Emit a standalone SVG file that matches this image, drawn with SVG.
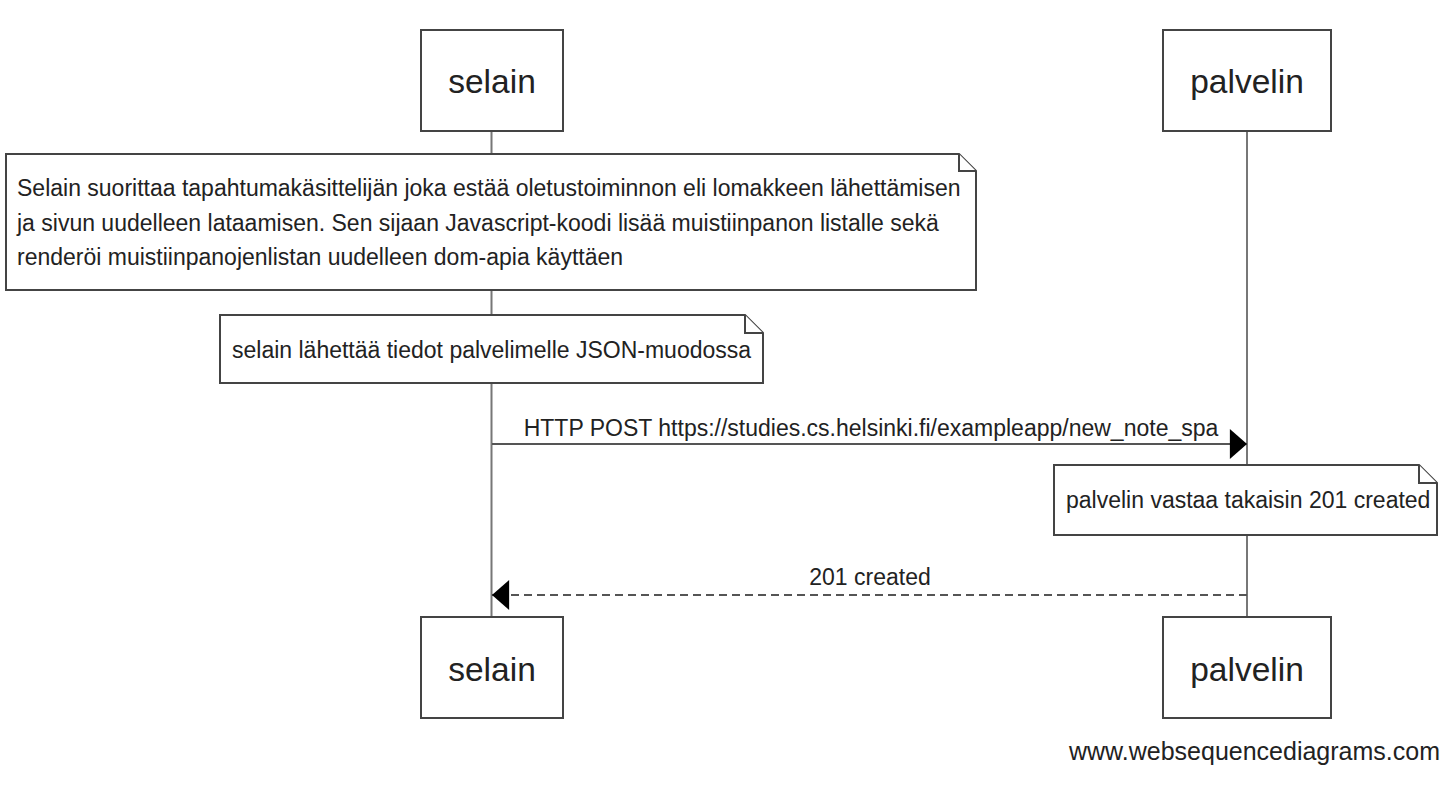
<svg xmlns="http://www.w3.org/2000/svg" width="1450" height="810" viewBox="0 0 1450 810">
<style>
.box{fill:#fff;stroke:#444;stroke-width:2}
.note{fill:#fff;stroke:#444;stroke-width:2;stroke-linejoin:miter}
.life{stroke:#777;stroke-width:2;fill:none}
.msg{stroke:#555;stroke-width:2;fill:none}
.dash{stroke-dasharray:8,5}
.ptxt{font-family:"Liberation Sans",Arial,sans-serif;font-size:33.5px;fill:#222;text-anchor:middle}
.ntxt{font-family:"Liberation Sans",Arial,sans-serif;font-size:23px;fill:#222}
.mtxt{font-family:"Liberation Sans",Arial,sans-serif;font-size:23px;fill:#222;text-anchor:middle}
.wm{font-family:"Liberation Sans",Arial,sans-serif;font-size:25px;fill:#222;text-anchor:end}
</style>
<defs>
<marker id="ah" markerUnits="userSpaceOnUse" markerWidth="18" markerHeight="30" viewBox="0 0 16 28" refX="16" refY="14" orient="auto">
<path d="M0,0 L16,14 L0,28 Z" fill="#000"/>
</marker>
</defs>
<rect width="1450" height="810" fill="#fff"/>
<g id="lifelines">
<line class="life" x1="491.5" y1="131" x2="491.5" y2="617"/>
<line class="life" x1="1247" y1="131" x2="1247" y2="617"/>
</g>
<g id="selain-top">
<rect class="box" x="421" y="30" width="142" height="101"/>
<text class="ptxt" x="492" y="93">selain</text>
</g>
<g id="palvelin-top">
<rect class="box" x="1163" y="30" width="168" height="101"/>
<text class="ptxt" x="1247" y="93">palvelin</text>
</g>
<g id="note1">
<path class="note" d="M6,154 H959 L976,171 V290 H6 Z"/>
<path class="note" d="M959,154 V171 H976" fill="none"/>
<text class="ntxt" x="17" y="196">Selain suorittaa tapahtumakäsittelijän joka estää oletustoiminnon eli lomakkeen lähettämisen</text>
<text class="ntxt" x="17" y="230.5">ja sivun uudelleen lataamisen. Sen sijaan Javascript-koodi lisää muistiinpanon listalle sekä</text>
<text class="ntxt" x="17" y="265">renderöi muistiinpanojenlistan uudelleen dom-apia käyttäen</text>
</g>
<g id="note2">
<path class="note" d="M220,315 H745 L763,333 V383 H220 Z"/>
<path class="note" d="M745,315 V333 H763" fill="none"/>
<text class="ntxt" x="232" y="358">selain lähettää tiedot palvelimelle JSON-muodossa</text>
</g>
<g id="note3">
<path class="note" d="M1054,465 H1419 L1437,483 V535 H1054 Z"/>
<path class="note" d="M1419,465 V483 H1437" fill="none"/>
<text class="ntxt" x="1066" y="508">palvelin vastaa takaisin 201 created</text>
</g>
<g id="connectors">
<line class="msg" x1="492" y1="444" x2="1247" y2="444" marker-end="url(#ah)"/>
<text class="mtxt" x="871" y="436">HTTP POST https://studies.cs.helsinki.fi/exampleapp/new_note_spa</text>
<line class="msg dash" x1="1247" y1="595" x2="492" y2="595" marker-end="url(#ah)"/>
<text class="mtxt" x="870" y="585">201 created</text>
</g>
<g id="selain-bottom">
<rect class="box" x="421" y="617" width="142" height="101"/>
<text class="ptxt" x="492" y="681">selain</text>
</g>
<g id="palvelin-bottom">
<rect class="box" x="1163" y="617" width="168" height="101"/>
<text class="ptxt" x="1247" y="681">palvelin</text>
</g>
<text class="wm" x="1440" y="760">www.websequencediagrams.com</text>
</svg>
